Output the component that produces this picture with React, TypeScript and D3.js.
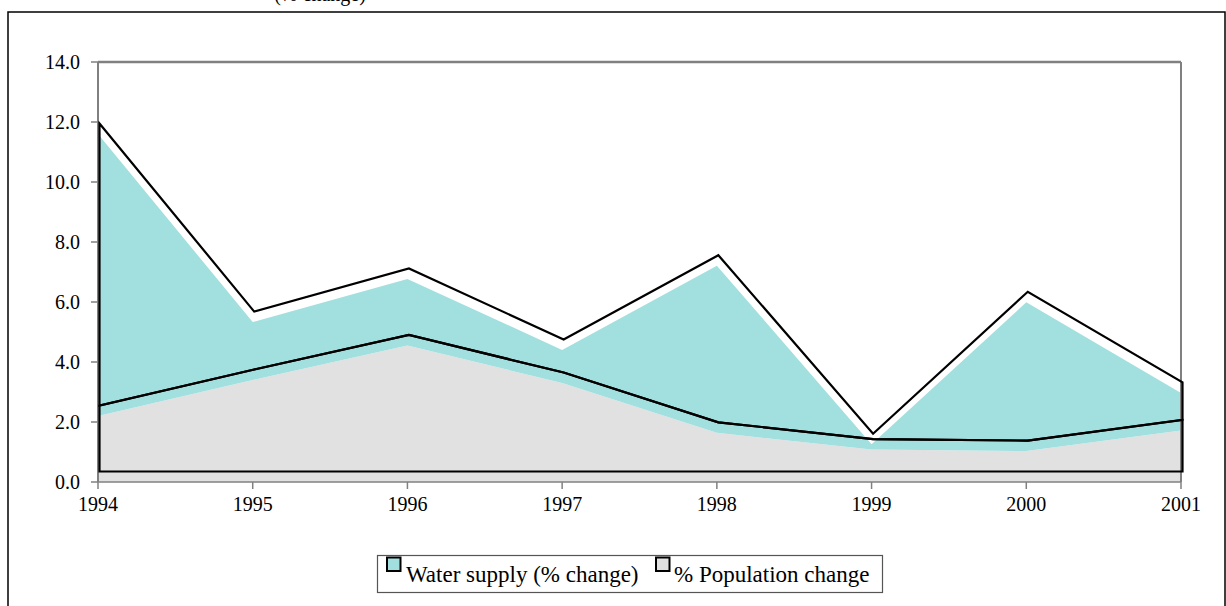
import React from "react";
import * as d3 from "d3";

const years = ["1994", "1995", "1996", "1997", "1998", "1999", "2000", "2001"];
const populationChange = [2.2, 3.4, 4.55, 3.3, 1.64, 1.08, 1.03, 1.72];
const waterSupply = [9.4, 1.93, 2.22, 1.1, 5.57, 0.18, 4.96, 1.25];
const yTicks = [0, 2, 4, 6, 8, 10, 12, 14];
const legendLabels = ["Water supply (% change)", "% Population change"];
const titleText = "(% change)";

const W = 1226;
const H = 606;
const FONT = "'Liberation Serif', 'Times New Roman', serif";
const TEAL = "#A2DFDF";
const GRAY = "#E1E1E1";
const AXIS = "#808080";

export default function App() {
  const x = d3.scalePoint<string>().domain(years).range([98, 1181]);
  const y = d3.scaleLinear().domain([0, 14]).range([482, 62]);

  const rows = years.map((yr, i) => ({ year: yr, pop: populationChange[i], water: waterSupply[i] }));
  const stack = d3.stack<any>().keys(["pop", "water"]);
  const series = stack(rows);

  const area = d3
    .area<any>()
    .x((d) => x(d.data.year) as number)
    .y0((d) => y(d[0]))
    .y1((d) => y(d[1]));

  const colors = [GRAY, TEAL];
  const dx = 1.5;
  const dy = -10.5;

  return (
    <svg
      width={W}
      height={H}
      style={{ position: "absolute", left: 0, top: 0, background: "#fff" }}
      fontFamily={FONT}
    >
      {/* title, cut off at the top edge as in the reference */}
      <text x={320} y={1} fontSize={20} textAnchor="middle" fill="#000">
        {titleText}
      </text>
      {/* outer frame */}
      <rect x={8} y={12} width={W - 9} height={H - 12 + 2} fill="#fff" stroke="#000" strokeWidth={1.5} />

      {/* fills */}
      {series.map((s, i) => (
        <path key={"f" + i} d={area(s) as string} fill={colors[i]} stroke="none" />
      ))}

      {/* plot border & axes */}
      <line x1={98} y1={62} x2={1181} y2={62} stroke={AXIS} strokeWidth={2.5} />
      <line x1={1181} y1={62} x2={1181} y2={482} stroke={AXIS} strokeWidth={2} />
      <line x1={98} y1={62} x2={98} y2={482} stroke={AXIS} strokeWidth={2} />
      <line x1={98} y1={482} x2={1181} y2={482} stroke={AXIS} strokeWidth={1.5} />

      {yTicks.map((t) => (
        <g key={"yt" + t}>
          <line x1={91} x2={98} y1={y(t)} y2={y(t)} stroke={AXIS} strokeWidth={1.5} />
          <text x={80} y={y(t) + 7} fontSize={20} textAnchor="end" fill="#000">
            {t.toFixed(1)}
          </text>
        </g>
      ))}
      {years.map((yr) => (
        <g key={"xt" + yr}>
          <line x1={x(yr)} x2={x(yr)} y1={482} y2={489} stroke={AXIS} strokeWidth={1.5} />
          <text x={x(yr)} y={511} fontSize={20} textAnchor="middle" fill="#000">
            {yr}
          </text>
        </g>
      ))}

      {/* offset outlines */}
      <g transform={`translate(${dx},${dy})`}>
        {series.map((s, i) => (
          <path
            key={"o" + i}
            d={area(s) as string}
            fill="none"
            stroke="#000"
            strokeWidth={2.2}
            strokeLinejoin="miter"
          />
        ))}
      </g>

      {/* legend */}
      <rect x={377.5} y={555.5} width={505} height={37} fill="#fff" stroke="#555" strokeWidth={1.2} />
      <rect x={387} y={557.5} width={13.5} height={13.5} fill={TEAL} stroke="#000" strokeWidth={2} />
      <text x={406} y={582} fontSize={23} fill="#000">
        {legendLabels[0]}
      </text>
      <rect x={656} y={557.5} width={13.5} height={13.5} fill={GRAY} stroke="#000" strokeWidth={2} />
      <text x={674} y={582} fontSize={23} fill="#000">
        {legendLabels[1]}
      </text>
    </svg>
  );
}
